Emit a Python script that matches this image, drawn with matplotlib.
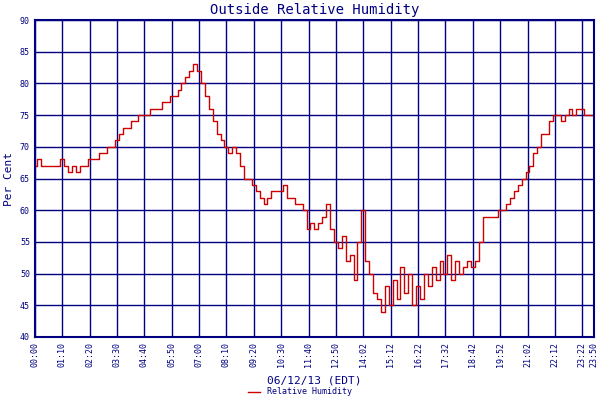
import matplotlib
matplotlib.use("Agg")
import matplotlib.pyplot as plt
import numpy as np

# relative humidity, ~10 minute samples, 7 per tick interval
humidity = [
    67, 68, 67, 67, 67, 67, 67,
    68, 67, 66, 67, 66, 67, 67,
    68, 68, 68, 69, 69, 70, 70,
    71, 72, 73, 73, 74, 74, 75,
    75, 75, 76, 76, 76, 77, 77,
    78, 78, 79, 80, 81, 82, 83,
    82, 80, 78, 76, 74, 72, 71,
    70, 69, 70, 69, 67, 65, 65,
    64, 63, 62, 61, 62, 63, 63,
    63, 64, 62, 62, 61, 61, 60,
    57, 58, 57, 58, 59, 61, 57,
    55, 54, 56, 52, 53, 49, 55,
    60, 52, 50, 47, 46, 44, 48,
    45, 49, 46, 51, 47, 50, 45,
    48, 46, 50, 48, 51, 49, 52,
    50, 53, 49, 52, 50, 51, 52,
    51, 52, 55, 59, 59, 59, 59,
    60, 60, 61, 62, 63, 64, 65,
    66, 67, 69, 70, 72, 72, 74,
    75, 75, 74, 75, 76, 75, 76,
    76, 75, 75, 75,
]
tick_labels = ["00:00", "01:10", "02:20", "03:30", "04:40", "05:50", "07:00",
               "08:10", "09:20", "10:30", "11:40", "12:50", "14:02", "15:12",
               "16:22", "17:32", "18:42", "19:52", "21:02", "22:12", "23:22", "23:50"]

navy = "#000080"
plt.rcParams['font.family'] = ['DejaVu Sans Mono']

fig = plt.figure(figsize=(6, 4), dpi=100)
ax = fig.add_axes([0.058, 0.1575, 0.932, 0.7925])
x = np.arange(len(humidity))
ax.plot(x, humidity, color="#cc0000", lw=1.0, drawstyle="steps-mid", label="Relative Humidity")

ticks = list(range(0, 141, 7)) + [len(humidity) - 1]
ax.set_xticks(ticks)
ax.set_xticklabels(tick_labels, rotation=90, fontsize=6, color=navy)
ax.set_xlim(0, len(humidity) - 1)
ax.set_ylim(40, 90)
ax.set_yticks(range(40, 91, 5))
ax.tick_params(axis='y', labelsize=6, colors=navy, length=0)
ax.tick_params(axis='x', length=0, colors=navy)
ax.grid(True, color=navy, lw=1)
for s in ax.spines.values():
    s.set_color(navy)
    s.set_linewidth(1.5)

ax.set_title("Outside Relative Humidity", color=navy, fontsize=10, pad=4)
ax.set_ylabel("Per Cent", color=navy, fontsize=8)
ax.set_xlabel("06/12/13 (EDT)", color=navy, fontsize=8, labelpad=6)
fig.legend(loc="lower center", bbox_to_anchor=(0.5, -0.01), frameon=False,
           fontsize=6, labelcolor=navy, handlelength=1.5)

fig.savefig("out.png", dpi=100)
